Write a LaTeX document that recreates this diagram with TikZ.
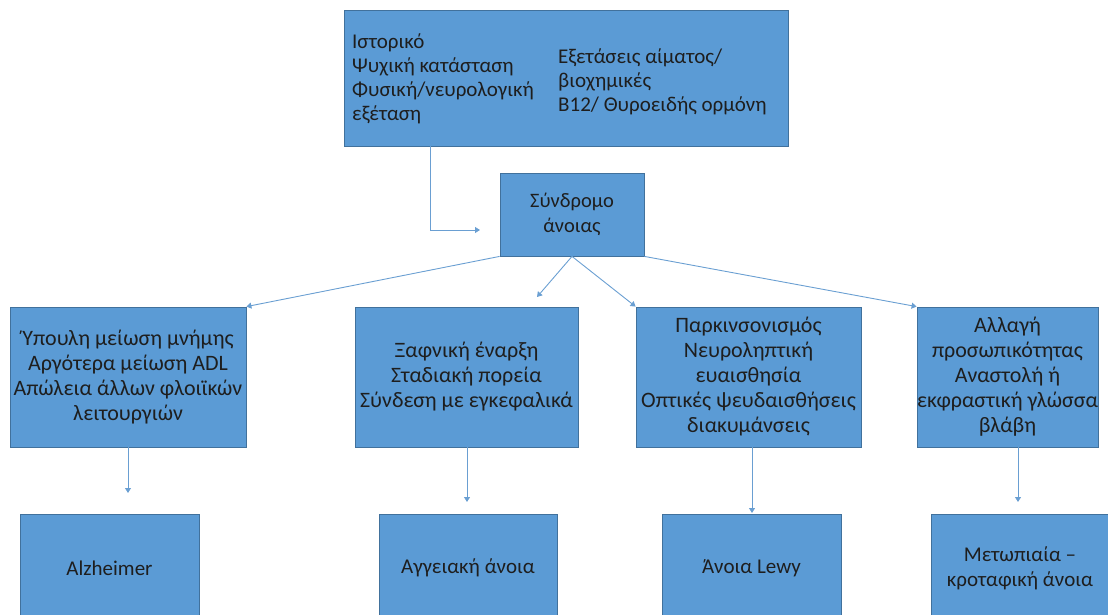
\documentclass[tikz,border=0pt]{standalone}
\usepackage{fontspec}
\setmainfont{Carlito}
\usepackage{xcolor}
\usetikzlibrary{arrows.meta}
\definecolor{boxblue}{HTML}{5B9BD5}
\definecolor{edgeblue}{HTML}{41719C}
\definecolor{lineblue}{HTML}{6A9FD2}
\definecolor{ink}{HTML}{1E1E1E}
\tikzset{>={Triangle[width=6pt,length=5pt]}}
\tikzset{
  box/.style={rectangle, fill=boxblue, draw=edgeblue, line width=0.8pt, inner sep=0pt,
    text=ink, align=center, font=\fontsize{22}{25}\selectfont},
  col/.style={anchor=west, align=left, text=ink, inner sep=0pt, font=\fontsize{21}{24}\selectfont},
  conn/.style={->, draw=lineblue, line width=0.9pt}
}

\begin{document}
\begin{tikzpicture}[x=1pt, y=-1pt]
\useasboundingbox (0,0) rectangle (1108,615);
% top and middle
\node[box, minimum width=444pt, minimum height=136pt] (exam) at (566,78) {};
\node[col] (examL) at (352,79) {Ιστορικό\\Ψυχική κατάσταση\\Φυσική/νευρολογική\\εξέταση};
\node[col] (examR) at (558,82) {Εξετάσεις αίματος/\\βιοχημικές\\B12/ Θυροειδής ορμόνη};
\node[box, minimum width=144pt, minimum height=83pt, font=\fontsize{20.5}{25}\selectfont] (syn) at (572,214.5) {Σύνδρομο\\άνοιας};

\node[box, minimum width=236pt, minimum height=140pt] (m1) at (128,377)
  {Ύπουλη μείωση μνήμης\\Αργότερα μείωση ADL\\Απώλεια άλλων φλοιϊκών\\λειτουργιών};
\node[box, minimum width=223pt, minimum height=140pt] (m2) at (466.5,377)
  {Ξαφνική έναρξη\\Σταδιακή πορεία\\Σύνδεση με εγκεφαλικά};
\node[box, minimum width=225pt, minimum height=140pt] (m3) at (748.5,377)
  {Παρκινσονισμός\\Νευροληπτική\\ευαισθησία\\Οπτικές ψευδαισθήσεις\\διακυμάνσεις};
\node[box, minimum width=181pt, minimum height=140pt] (m4) at (1007.5,377)
  {Αλλαγή\\προσωπικότητας\\Αναστολή ή\\εκφραστική γλώσσα\\βλάβη};

% bottom row
\node[box, minimum width=179pt, minimum height=108pt, font=\fontsize{21}{25}\selectfont] (b1) at (109.5,568) {Alzheimer};
\node[box, minimum width=178pt, minimum height=108pt, font=\fontsize{21}{25}\selectfont] (b2) at (468,568) {Αγγειακή άνοια};
\node[box, minimum width=179pt, minimum height=108pt, font=\fontsize{21}{25}\selectfont] (b3) at (751.5,568) {Άνοια Lewy};
\node[box, minimum width=178pt, minimum height=108pt, font=\fontsize{21}{25}\selectfont] (b4) at (1020,568) {Μετωπιαία –\\κροταφική άνοια};

\coordinate (elb) at (430,230);
\coordinate (etip) at (480,230);
\coordinate (t0) at (537,297);
\coordinate (t1) at (128,493);
\coordinate (t2) at (467,502);
\coordinate (t3) at (752,513);
\coordinate (t4) at (1018,502);

\draw[conn] (exam.south -| elb) |- (etip);
\draw[conn] (syn.south west) -- (m1.north east);
\draw[conn] (syn.south) -- (t0);
\draw[conn] (syn.south) -- (m3.north west);
\draw[conn] (syn.south east) -- (m4.north west);
\draw[conn] (m1.south -| t1) -- (t1);
\draw[conn] (m2.south -| t2) -- (t2);
\draw[conn] (m3.south -| t3) -- (t3);
\draw[conn] (m4.south -| t4) -- (t4);
\end{tikzpicture}
\end{document}
